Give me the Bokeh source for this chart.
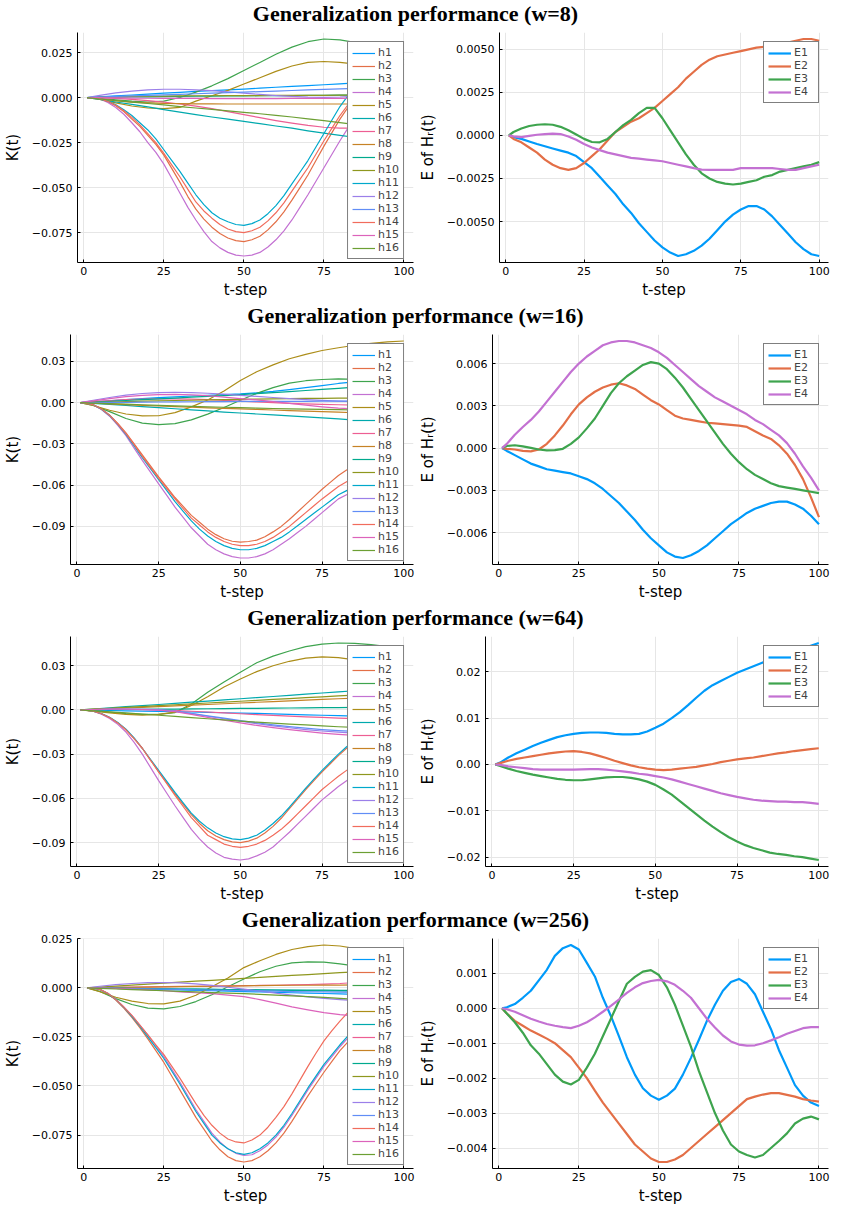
from bokeh.plotting import figure
from bokeh.layouts import column, row
from bokeh.models import Range1d, FixedTicker, Legend, LegendItem, Label
from bokeh.embed import file_html
from bokeh.resources import INLINE

# ---------------- data ----------------
# coarse grid (slowly varying series) and fine grid (strongly curved series)
T = [1, 5, 10, 15, 20, 25, 30, 35, 40, 45, 50, 55, 60, 65, 70, 75, 80, 85, 90, 95, 100]
T2 = [1, 2.5, 5, 7.5, 10, 12.5, 15, 17.5, 20, 22.5, 25, 27.5, 30, 32.5, 35, 37.5, 40, 42.5, 45, 47.5,
      50, 52.5, 55, 57.5, 60, 62.5, 65, 67.5, 70, 72.5, 75, 77.5, 80, 82.5, 85, 87.5, 90, 92.5, 95, 97.5, 100]

W_VALUES = [8, 16, 64, 256]
TITLES = ["Generalization performance (w=8)", "Generalization performance (w=16)",
          "Generalization performance (w=64)", "Generalization performance (w=256)"]
H_LABELS = ["h1", "h2", "h3", "h4", "h5", "h6", "h7", "h8", "h9", "h10", "h11", "h12", "h13", "h14", "h15", "h16"]
E_LABELS = ["E1", "E2", "E3", "E4"]
X_TICKS = [0, 25, 50, 75, 100]
X_LABEL = "t-step"
K_LABEL = "K(t)"
E_LABEL = "E of Hᵣ(t)"

PALETTE = ["#009AFA", "#E36F47", "#3EA44E", "#C371D2", "#AC8D18", "#00A9AD", "#ED5E93", "#C68225",
           "#00A98D", "#8E971E", "#00A8CB", "#9B7FE9", "#618DF6", "#F16C5C", "#DC63BB", "#6C9F33"]

# ----- w = 8 -----
k8_h1 = [0, 0.0004, 0.0009, 0.0014, 0.0019, 0.0024, 0.0029, 0.0034, 0.0038, 0.0043, 0.0047, 0.0052, 0.0057, 0.0062, 0.0066, 0.0071, 0.0076, 0.0081, 0.0085, 0.0090, 0.0095]
k8_h2 = [0, -0.0001, -0.0007, -0.0023, -0.0046, -0.0078, -0.012, -0.016, -0.021, -0.026, -0.032, -0.0395, -0.047, -0.055, -0.062, -0.0675, -0.072, -0.0755, -0.078, -0.0795, -0.080, -0.079, -0.077, -0.0735, -0.069, -0.0635, -0.057, -0.050, -0.043, -0.035, -0.027, -0.0195, -0.012, -0.0055, 0.000, 0.005, 0.009, 0.012, 0.015, 0.0167, 0.0178]
k8_h3 = [0, -0.0005, -0.0013, -0.002, -0.0025, -0.002, 0.0, 0.003, 0.0065, 0.0105, 0.015, 0.0195, 0.024, 0.028, 0.031, 0.0325, 0.032, 0.0305, 0.028, 0.024, 0.0208]
k8_h4 = [0, -0.0001, -0.0008, -0.0027, -0.0055, -0.0093, -0.014, -0.019, -0.025, -0.0305, -0.037, -0.045, -0.053, -0.061, -0.068, -0.0745, -0.080, -0.0835, -0.086, -0.0875, -0.088, -0.0875, -0.086, -0.083, -0.079, -0.074, -0.068, -0.061, -0.054, -0.0465, -0.039, -0.0315, -0.024, -0.017, -0.011, -0.0055, -0.001, 0.0025, 0.005, 0.0068, 0.008]
k8_h5 = [0, -0.001, -0.003, -0.0047, -0.0058, -0.0062, -0.0055, -0.002, 0.001, 0.004, 0.0075, 0.011, 0.0145, 0.0175, 0.0195, 0.020, 0.0195, 0.0185, 0.0172, 0.016, 0.015]
k8_h6 = [0, -0.001, -0.0025, -0.0038, -0.0052, -0.0067, -0.0081, -0.0095, -0.0108, -0.012, -0.0132, -0.0145, -0.0158, -0.017, -0.0185, -0.0198, -0.021, -0.0222, -0.0235, -0.0249, -0.0266]
k8_h7 = [0, -0.0002, -0.0005, -0.001, -0.0017, -0.0026, -0.0036, -0.0048, -0.0062, -0.0078, -0.0095, -0.0112, -0.0128, -0.0142, -0.0155, -0.0165, -0.017, -0.017, -0.0163, -0.0152, -0.014]
k8_h8 = [0, -0.0008, -0.0018, -0.0026, -0.003, -0.0033, -0.0034, -0.0035, -0.0035, -0.0036, -0.0036, -0.0036, -0.0036, -0.0036, -0.0036, -0.0036, -0.0036, -0.0036, -0.0036, -0.0036, -0.0036]
k8_h9 = [0, 0.0001, 0.0002, 0.0003, 0.0004, 0.0005, 0.0006, 0.0007, 0.0008, 0.0009, 0.0009, 0.001, 0.0011, 0.0011, 0.0012, 0.0012, 0.0013, 0.0013, 0.0014, 0.0014, 0.0015]
k8_h10 = [0, 0.0002, 0.0004, 0.0006, 0.0007, 0.0008, 0.0009, 0.001, 0.001, 0.0011, 0.0011, 0.0011, 0.0012, 0.0012, 0.0012, 0.0012, 0.0013, 0.0013, 0.0013, 0.0013, 0.0013]
k8_h11 = [0, -0.0001, -0.0006, -0.002, -0.004, -0.0068, -0.010, -0.014, -0.018, -0.023, -0.029, -0.035, -0.041, -0.0475, -0.054, -0.0595, -0.064, -0.067, -0.069, -0.0705, -0.071, -0.070, -0.068, -0.0645, -0.060, -0.0545, -0.048, -0.0415, -0.035, -0.0275, -0.020, -0.0125, -0.005, 0.001, 0.007, 0.012, 0.016, 0.019, 0.022, 0.0237, 0.025]
k8_h12 = [0, 0.0012, 0.0026, 0.0036, 0.0043, 0.0046, 0.0046, 0.0043, 0.0038, 0.0031, 0.0024, 0.0017, 0.0011, 0.0006, 0.0002, 0.0001, 0.0003, 0.0008, 0.0015, 0.0022, 0.0027]
k8_h13 = [0, 0.0003, 0.0006, 0.0009, 0.0012, 0.0015, 0.0018, 0.0021, 0.0024, 0.0027, 0.003, 0.0033, 0.0036, 0.0039, 0.0042, 0.0045, 0.0048, 0.0051, 0.0055, 0.0059, 0.0063]
k8_h14 = [0, -0.0001, -0.0006, -0.0021, -0.0043, -0.0073, -0.011, -0.0152, -0.020, -0.025, -0.031, -0.0375, -0.044, -0.051, -0.058, -0.063, -0.067, -0.0705, -0.073, -0.0745, -0.075, -0.074, -0.072, -0.0685, -0.064, -0.0585, -0.052, -0.0455, -0.039, -0.0315, -0.024, -0.017, -0.010, -0.004, 0.002, 0.007, 0.011, 0.014, 0.016, 0.0177, 0.0187]
k8_h15 = [0, -0.0001, -0.0002, -0.0003, -0.0004, -0.0005, -0.0005, -0.0005, -0.0006, -0.0006, -0.0006, -0.0006, -0.0006, -0.0005, -0.0005, -0.0005, -0.0005, -0.0004, -0.0004, -0.0004, -0.0004]
k8_h16 = [0, -0.0008, -0.0017, -0.0025, -0.0033, -0.0041, -0.005, -0.0058, -0.0066, -0.0074, -0.0082, -0.009, -0.0099, -0.0108, -0.0118, -0.0128, -0.0139, -0.015, -0.0162, -0.0174, -0.0185]

e8_1 = [0, -0.0001, -0.0002, -0.00035, -0.0005, -0.00063, -0.00076, -0.00088, -0.001, -0.0012, -0.00155, -0.0019, -0.0024, -0.0029, -0.0034, -0.0040, -0.0045, -0.0051, -0.0056, -0.0061, -0.0065, -0.0068, -0.0070, -0.0069, -0.0067, -0.0064, -0.0060, -0.0055, -0.0050, -0.0046, -0.0043, -0.0041, -0.0041, -0.0043, -0.0047, -0.0052, -0.0057, -0.0062, -0.0066, -0.0069, -0.0070]
e8_2 = [0, -0.0002, -0.0004, -0.0007, -0.001, -0.0014, -0.0017, -0.0019, -0.002, -0.0019, -0.0016, -0.0012, -0.0008, -0.0003, 0.0002, 0.0005, 0.0008, 0.001, 0.0013, 0.0016, 0.002, 0.0024, 0.0028, 0.0033, 0.0037, 0.0041, 0.0044, 0.0046, 0.0047, 0.0048, 0.0049, 0.005, 0.0051, 0.00515, 0.0052, 0.0053, 0.0054, 0.0055, 0.0056, 0.0056, 0.0055]
e8_3 = [0, 0.0002, 0.0004, 0.00055, 0.00062, 0.00065, 0.00062, 0.0005, 0.0003, 0.00005, -0.0002, -0.00038, -0.0004, -0.0002, 0.0002, 0.0006, 0.0009, 0.0013, 0.0016, 0.0016, 0.001, 0.0003, -0.0004, -0.0011, -0.0017, -0.0022, -0.0025, -0.0027, -0.0028, -0.00285, -0.0028, -0.0027, -0.0026, -0.0024, -0.0023, -0.0021, -0.002, -0.0019, -0.0018, -0.0017, -0.00155]
e8_4 = [0, -0.00005, -0.0001, -0.00003, 0.00004, 0.00008, 0.0001, 0.00008, -0.00006, -0.00025, -0.0005, -0.0007, -0.00085, -0.001, -0.0011, -0.0012, -0.0013, -0.00135, -0.0014, -0.00145, -0.0015, -0.0016, -0.0017, -0.0018, -0.0019, -0.00198, -0.002, -0.002, -0.002, -0.002, -0.0019, -0.0019, -0.0019, -0.0019, -0.0019, -0.00195, -0.002, -0.002, -0.0019, -0.0018, -0.0017]

# ----- w = 16 -----
k16_h1 = [0, 0.0006, 0.0014, 0.0022, 0.003, 0.0037, 0.0043, 0.0049, 0.0054, 0.0059, 0.0064, 0.0072, 0.0082, 0.0095, 0.011, 0.0125, 0.014, 0.0152, 0.0163, 0.0172, 0.018]
k16_h2 = [0, -0.0003, -0.0015, -0.0045, -0.009, -0.015, -0.022, -0.030, -0.038, -0.046, -0.054, -0.0615, -0.069, -0.0755, -0.082, -0.087, -0.092, -0.096, -0.099, -0.1008, -0.1015, -0.101, -0.100, -0.0975, -0.094, -0.090, -0.085, -0.0795, -0.074, -0.0685, -0.063, -0.058, -0.053, -0.049, -0.046, -0.0435, -0.041, -0.0395, -0.038, -0.037, -0.036]
k16_h3 = [0, -0.002, -0.0065, -0.0115, -0.0148, -0.0159, -0.0152, -0.0125, -0.0083, -0.0035, 0.0018, 0.0068, 0.011, 0.0142, 0.016, 0.0169, 0.0173, 0.017, 0.0163, 0.0155, 0.0148]
k16_h4 = [0, -0.0003, -0.0016, -0.0049, -0.0098, -0.0165, -0.024, -0.033, -0.042, -0.0505, -0.059, -0.0675, -0.076, -0.0835, -0.091, -0.097, -0.103, -0.107, -0.110, -0.112, -0.113, -0.113, -0.112, -0.110, -0.107, -0.103, -0.099, -0.0945, -0.090, -0.085, -0.080, -0.075, -0.070, -0.067, -0.064, -0.062, -0.060, -0.059, -0.058, -0.0575, -0.057]
k16_h5 = [0, -0.002, -0.0055, -0.0082, -0.0096, -0.0095, -0.0072, -0.003, 0.002, 0.0085, 0.0162, 0.0225, 0.0275, 0.032, 0.0352, 0.038, 0.040, 0.0418, 0.0432, 0.0442, 0.0449]
k16_h6 = [0, -0.0005, -0.0012, -0.002, -0.0028, -0.0036, -0.0044, -0.0052, -0.006, -0.0068, -0.0075, -0.0082, -0.0089, -0.0096, -0.0103, -0.011, -0.0118, -0.0127, -0.0137, -0.0147, -0.0157]
k16_h7 = [0, 0.0008, 0.0016, 0.0022, 0.0026, 0.0028, 0.0028, 0.0026, 0.0022, 0.0017, 0.0011, 0.0005, 0.0, -0.0005, -0.0009, -0.0012, -0.0015, -0.0017, -0.0018, -0.0019, -0.002]
k16_h8 = [0, -0.0004, -0.0009, -0.0014, -0.0019, -0.0024, -0.0029, -0.0033, -0.0037, -0.0041, -0.0045, -0.0049, -0.0053, -0.0057, -0.0061, -0.0065, -0.0069, -0.0073, -0.0077, -0.0081, -0.0085]
k16_h9 = [0, 0.0005, 0.001, 0.0016, 0.0022, 0.0028, 0.0034, 0.004, 0.0046, 0.0052, 0.0059, 0.0066, 0.0073, 0.0081, 0.0089, 0.0097, 0.0105, 0.0113, 0.0121, 0.0128, 0.0135]
k16_h10 = [0, 0.0002, 0.0005, 0.0008, 0.0011, 0.0014, 0.0016, 0.0018, 0.002, 0.0022, 0.0024, 0.0026, 0.0028, 0.003, 0.0031, 0.0032, 0.0033, 0.0034, 0.0035, 0.0036, 0.0037]
k16_h11 = [0, -0.0003, -0.0015, -0.0047, -0.0093, -0.0158, -0.023, -0.0315, -0.040, -0.048, -0.056, -0.064, -0.072, -0.079, -0.086, -0.092, -0.097, -0.101, -0.104, -0.106, -0.107, -0.107, -0.106, -0.104, -0.101, -0.098, -0.094, -0.0895, -0.085, -0.0805, -0.076, -0.0715, -0.067, -0.064, -0.061, -0.059, -0.057, -0.0558, -0.055, -0.0547, -0.0546]
k16_h12 = [0, 0.0018, 0.0038, 0.0055, 0.0067, 0.0074, 0.0076, 0.0074, 0.0069, 0.0062, 0.0054, 0.0046, 0.0038, 0.003, 0.0023, 0.0017, 0.0012, 0.0008, 0.0006, 0.0005, 0.0005]
k16_h13 = [0, 0.0001, 0.0002, 0.0003, 0.0004, 0.0005, 0.0006, 0.0007, 0.0008, 0.0008, 0.0009, 0.0009, 0.001, 0.001, 0.001, 0.0011, 0.0011, 0.0011, 0.0012, 0.0012, 0.0012]
k16_h14 = [0, -0.0003, -0.0015, -0.0046, -0.0092, -0.0155, -0.0225, -0.0305, -0.039, -0.047, -0.055, -0.0625, -0.070, -0.077, -0.084, -0.089, -0.094, -0.098, -0.101, -0.103, -0.104, -0.104, -0.103, -0.101, -0.098, -0.094, -0.090, -0.085, -0.080, -0.075, -0.070, -0.0655, -0.061, -0.0575, -0.054, -0.052, -0.050, -0.049, -0.048, -0.0477, -0.0475]
k16_h15 = [0, 0.0014, 0.003, 0.0044, 0.0054, 0.0059, 0.006, 0.0057, 0.0051, 0.0041, 0.003, 0.002, 0.0008, -0.0005, -0.0018, -0.003, -0.004, -0.0045, -0.0046, -0.0045, -0.0043]
k16_h16 = [0, -0.0003, -0.0007, -0.0011, -0.0015, -0.0019, -0.0023, -0.0027, -0.003, -0.0033, -0.0036, -0.0039, -0.0042, -0.0045, -0.0047, -0.0049, -0.0051, -0.0053, -0.0055, -0.0057, -0.0059]

e16_1 = [0, -0.0002, -0.0005, -0.0008, -0.0011, -0.0013, -0.0015, -0.0016, -0.0017, -0.0018, -0.002, -0.0022, -0.0025, -0.0029, -0.0034, -0.0039, -0.0045, -0.0051, -0.0058, -0.0064, -0.0069, -0.0074, -0.0077, -0.0078, -0.0076, -0.0073, -0.0069, -0.0064, -0.0059, -0.0054, -0.005, -0.0046, -0.0043, -0.0041, -0.0039, -0.0038, -0.0038, -0.0040, -0.0043, -0.0048, -0.0054]
e16_2 = [0, -0.00005, -0.0001, -0.0002, -0.00023, -0.0001, 0.0003, 0.0009, 0.0016, 0.0024, 0.0031, 0.0036, 0.004, 0.0043, 0.0045, 0.0046, 0.00445, 0.0042, 0.0038, 0.0034, 0.0031, 0.0027, 0.0023, 0.0021, 0.002, 0.0019, 0.0018, 0.00175, 0.0017, 0.00165, 0.0016, 0.0015, 0.0012, 0.0009, 0.00065, 0.0002, -0.0004, -0.0012, -0.0022, -0.0035, -0.0049]
e16_3 = [0, 0.00015, 0.0002, 0.00012, 0.00002, -0.0001, -0.00016, -0.00015, -0.00005, 0.0003, 0.00076, 0.0014, 0.0021, 0.003, 0.0039, 0.0046, 0.0051, 0.0055, 0.0059, 0.0061, 0.006, 0.0056, 0.005, 0.0043, 0.0035, 0.0027, 0.0019, 0.0011, 0.0003, -0.0004, -0.001, -0.0015, -0.0019, -0.0022, -0.0025, -0.0027, -0.0028, -0.0029, -0.003, -0.0031, -0.0032]
e16_4 = [0, 0.0003, 0.00095, 0.0015, 0.002, 0.0026, 0.0033, 0.004, 0.0047, 0.0054, 0.006, 0.0065, 0.0069, 0.0073, 0.0075, 0.0076, 0.0076, 0.0075, 0.0073, 0.0071, 0.0068, 0.0064, 0.0059, 0.0054, 0.0049, 0.0044, 0.004, 0.0036, 0.0033, 0.003, 0.0027, 0.0024, 0.002, 0.0017, 0.0013, 0.0009, 0.00035, -0.0004, -0.0013, -0.0021, -0.003]

# ----- w = 64 -----
k64_h1 = [0, -0.0002, -0.0004, -0.0006, -0.0008, -0.001, -0.0012, -0.0014, -0.0016, -0.0019, -0.0021, -0.0024, -0.0027, -0.003, -0.0033, -0.0036, -0.0039, -0.0042, -0.0045, -0.0048, -0.005]
k64_h2 = [0, -0.0001, -0.0008, -0.0026, -0.0052, -0.0088, -0.0135, -0.0195, -0.026, -0.034, -0.042, -0.0495, -0.057, -0.064, -0.071, -0.077, -0.082, -0.0855, -0.088, -0.0895, -0.090, -0.089, -0.087, -0.0835, -0.079, -0.0735, -0.067, -0.0605, -0.054, -0.048, -0.042, -0.0365, -0.031, -0.026, -0.022, -0.018, -0.015, -0.0125, -0.010, -0.0085, -0.007]
k64_h3 = [0, -0.0005, -0.0015, -0.0025, -0.003, -0.003, -0.0018, 0.004, 0.012, 0.019, 0.0255, 0.032, 0.0365, 0.040, 0.043, 0.0447, 0.0454, 0.0452, 0.0443, 0.043, 0.0414]
k64_h4 = [0, -0.0001, -0.0009, -0.0029, -0.0058, -0.0098, -0.015, -0.022, -0.030, -0.039, -0.048, -0.0565, -0.065, -0.073, -0.081, -0.0875, -0.093, -0.097, -0.100, -0.1012, -0.1018, -0.101, -0.099, -0.0965, -0.093, -0.088, -0.083, -0.0775, -0.072, -0.0665, -0.061, -0.0565, -0.052, -0.048, -0.044, -0.041, -0.038, -0.036, -0.034, -0.033, -0.032]
k64_h5 = [0, -0.0008, -0.002, -0.003, -0.0035, -0.003, -0.0015, 0.003, 0.009, 0.0155, 0.021, 0.026, 0.030, 0.033, 0.0352, 0.036, 0.0355, 0.034, 0.032, 0.030, 0.0276]
k64_h6 = [0, 0.0006, 0.0014, 0.0022, 0.0029, 0.0037, 0.0045, 0.0053, 0.006, 0.0068, 0.0076, 0.0084, 0.0091, 0.0099, 0.0107, 0.0115, 0.0123, 0.013, 0.0138, 0.0146, 0.0154]
k64_h7 = [0, 0.0002, 0.0003, 0.0003, 0.0002, 0.0, -0.0004, -0.0009, -0.0014, -0.002, -0.0026, -0.0032, -0.0037, -0.0042, -0.0047, -0.0051, -0.0055, -0.0059, -0.0062, -0.0065, -0.0068]
k64_h8 = [0, 0.0004, 0.0009, 0.0013, 0.0018, 0.0023, 0.0028, 0.0032, 0.0037, 0.0042, 0.0047, 0.0052, 0.0056, 0.0061, 0.0066, 0.0071, 0.0076, 0.008, 0.0085, 0.009, 0.0095]
k64_h9 = [0, 0.0001, 0.0002, 0.0003, 0.0004, 0.0005, 0.0006, 0.0007, 0.0008, 0.0009, 0.001, 0.0011, 0.0012, 0.0013, 0.0014, 0.0015, 0.0016, 0.0017, 0.0018, 0.0019, 0.002]
k64_h10 = [0, 0.0005, 0.0011, 0.0017, 0.0023, 0.0029, 0.0035, 0.0041, 0.0047, 0.0053, 0.0059, 0.0065, 0.0071, 0.0077, 0.0083, 0.0089, 0.0095, 0.0101, 0.0107, 0.0113, 0.012]
k64_h11 = [0, -0.0001, -0.0008, -0.0025, -0.005, -0.0085, -0.013, -0.019, -0.026, -0.0335, -0.041, -0.0485, -0.056, -0.063, -0.070, -0.0755, -0.080, -0.0835, -0.086, -0.0875, -0.088, -0.087, -0.085, -0.0815, -0.077, -0.072, -0.066, -0.0595, -0.053, -0.047, -0.041, -0.0355, -0.030, -0.025, -0.021, -0.017, -0.014, -0.0115, -0.009, -0.0075, -0.006]
k64_h12 = [0, 0.0003, 0.0005, 0.0006, 0.0005, 0.0002, -0.0008, -0.0025, -0.0043, -0.006, -0.0077, -0.0093, -0.0108, -0.0121, -0.0133, -0.0143, -0.0151, -0.0157, -0.0161, -0.0164, -0.0166]
k64_h13 = [0, 0.0002, 0.0004, 0.0004, 0.0003, 0.0, -0.0009, -0.0024, -0.004, -0.0056, -0.0072, -0.0087, -0.0101, -0.0113, -0.0124, -0.0133, -0.014, -0.0145, -0.0148, -0.015, -0.0151]
k64_h14 = [0, -0.0001, -0.0008, -0.0026, -0.0052, -0.0088, -0.0135, -0.0195, -0.026, -0.034, -0.042, -0.050, -0.058, -0.0655, -0.073, -0.079, -0.085, -0.088, -0.091, -0.0925, -0.0933, -0.0925, -0.091, -0.0885, -0.085, -0.081, -0.076, -0.0705, -0.065, -0.0595, -0.054, -0.0495, -0.045, -0.041, -0.037, -0.034, -0.031, -0.0295, -0.028, -0.027, -0.0265]
k64_h15 = [0, 0.0003, 0.0005, 0.0005, 0.0003, -0.0001, -0.0012, -0.003, -0.005, -0.007, -0.0088, -0.0105, -0.012, -0.0134, -0.0146, -0.0157, -0.0166, -0.0173, -0.0178, -0.0182, -0.0185]
k64_h16 = [0, -0.0006, -0.0013, -0.002, -0.0028, -0.0036, -0.0044, -0.0052, -0.006, -0.0068, -0.0076, -0.0083, -0.009, -0.0096, -0.0102, -0.0108, -0.0114, -0.0118, -0.0121, -0.0123, -0.0125]

e64_1 = [0, 0.0004, 0.0015, 0.0024, 0.0032, 0.004, 0.0047, 0.0053, 0.0059, 0.0063, 0.0066, 0.0068, 0.0069, 0.0069, 0.0068, 0.0066, 0.0065, 0.0065, 0.0066, 0.0071, 0.0079, 0.0088, 0.010, 0.0113, 0.0128, 0.0144, 0.0159, 0.0171, 0.018, 0.0189, 0.0198, 0.0205, 0.0212, 0.0219, 0.0226, 0.0232, 0.0238, 0.0244, 0.025, 0.0256, 0.0262]
e64_2 = [0, 0.0003, 0.0008, 0.0012, 0.0015, 0.0018, 0.0021, 0.0024, 0.0026, 0.0028, 0.0029, 0.0027, 0.0024, 0.0019, 0.0014, 0.0008, 0.0003, -0.0002, -0.0006, -0.0009, -0.0011, -0.0012, -0.0011, -0.0009, -0.0007, -0.0005, -0.0002, 0.0001, 0.0005, 0.0008, 0.0011, 0.0013, 0.0015, 0.0018, 0.0021, 0.0024, 0.0026, 0.0029, 0.0031, 0.0033, 0.0035]
e64_3 = [0, -0.0003, -0.0009, -0.0014, -0.0018, -0.0022, -0.0025, -0.0028, -0.0031, -0.0033, -0.0034, -0.0034, -0.0032, -0.003, -0.0028, -0.0027, -0.0027, -0.0029, -0.0032, -0.0037, -0.0044, -0.0054, -0.0065, -0.0079, -0.0093, -0.0107, -0.0121, -0.0134, -0.0146, -0.0157, -0.0166, -0.0174, -0.018, -0.0185, -0.019, -0.0193, -0.0195, -0.0198, -0.02, -0.0203, -0.0206]
e64_4 = [0, -0.0001, -0.0004, -0.0006, -0.0008, -0.001, -0.0011, -0.0011, -0.0011, -0.0011, -0.0011, -0.00105, -0.001, -0.001, -0.0011, -0.0013, -0.0015, -0.0017, -0.002, -0.0022, -0.0025, -0.0028, -0.0032, -0.0037, -0.0042, -0.0047, -0.0052, -0.0057, -0.0062, -0.0066, -0.007, -0.0073, -0.0076, -0.0078, -0.0079, -0.008, -0.008, -0.0081, -0.0081, -0.0083, -0.0085]

# ----- w = 256 -----
k256_h1 = [0, -0.0001, -0.0003, -0.0005, -0.0007, -0.0009, -0.0011, -0.0013, -0.0015, -0.0017, -0.0019, -0.0021, -0.0023, -0.0025, -0.0027, -0.0029, -0.0031, -0.0033, -0.0035, -0.0037, -0.004]
k256_h2 = [0, -0.0001, -0.0009, -0.003, -0.0062, -0.0103, -0.015, -0.0203, -0.026, -0.032, -0.038, -0.045, -0.052, -0.059, -0.066, -0.072, -0.078, -0.0825, -0.086, -0.088, -0.0887, -0.088, -0.086, -0.083, -0.079, -0.074, -0.068, -0.0615, -0.055, -0.049, -0.043, -0.0375, -0.032, -0.0275, -0.023, -0.019, -0.015, -0.012, -0.009, -0.007, -0.005]
k256_h3 = [0, -0.0018, -0.0055, -0.0085, -0.0103, -0.0107, -0.0095, -0.007, -0.0035, 0.0005, 0.0045, 0.0082, 0.011, 0.0127, 0.0132, 0.0131, 0.0122, 0.011, 0.0102, 0.0098, 0.0095]
k256_h4 = [0, -0.0001, -0.0008, -0.0028, -0.0058, -0.0097, -0.014, -0.019, -0.024, -0.0295, -0.035, -0.0415, -0.048, -0.055, -0.062, -0.068, -0.074, -0.0785, -0.082, -0.0843, -0.0853, -0.085, -0.083, -0.080, -0.076, -0.071, -0.065, -0.0585, -0.052, -0.046, -0.040, -0.035, -0.030, -0.0255, -0.021, -0.017, -0.013, -0.0098, -0.007, -0.0048, -0.003]
k256_h5 = [0, -0.002, -0.0048, -0.0068, -0.008, -0.0082, -0.0068, -0.0038, 0.0005, 0.005, 0.0103, 0.0138, 0.017, 0.0195, 0.021, 0.0218, 0.0213, 0.020, 0.0188, 0.0178, 0.017]
k256_h6 = [0, -0.0001, -0.0002, -0.0003, -0.0004, -0.0005, -0.0006, -0.0007, -0.0008, -0.0009, -0.001, -0.0011, -0.0012, -0.0013, -0.0014, -0.0015, -0.0016, -0.0017, -0.0018, -0.0019, -0.002]
k256_h7 = [0, 0.0001, 0.0002, 0.0004, 0.0005, 0.0006, 0.0007, 0.0008, 0.0009, 0.001, 0.0011, 0.0012, 0.0013, 0.0015, 0.0017, 0.0019, 0.0022, 0.0027, 0.0033, 0.004, 0.0048]
k256_h8 = [0, 0.0001, 0.0002, 0.0003, 0.0004, 0.0005, 0.0006, 0.0007, 0.0008, 0.0009, 0.001, 0.0011, 0.0012, 0.0013, 0.0013, 0.0014, 0.0014, 0.0015, 0.0015, 0.0016, 0.0016]
k256_h9 = [0, -0.0001, -0.0002, -0.0003, -0.0004, -0.0005, -0.0006, -0.0007, -0.0008, -0.0009, -0.001, -0.001, -0.0011, -0.0011, -0.0012, -0.0012, -0.0013, -0.0013, -0.0014, -0.0014, -0.0015]
k256_h10 = [0, 0.0004, 0.0009, 0.0014, 0.0019, 0.0024, 0.0029, 0.0034, 0.0038, 0.0043, 0.0048, 0.0053, 0.0058, 0.0063, 0.0067, 0.0072, 0.0077, 0.0081, 0.0086, 0.009, 0.0095]
k256_h11 = [0, -0.0001, -0.0008, -0.0029, -0.006, -0.010, -0.0145, -0.0195, -0.025, -0.0305, -0.036, -0.0425, -0.049, -0.056, -0.063, -0.069, -0.075, -0.079, -0.082, -0.084, -0.0848, -0.084, -0.082, -0.079, -0.075, -0.070, -0.064, -0.0575, -0.051, -0.045, -0.039, -0.034, -0.029, -0.0245, -0.020, -0.016, -0.012, -0.009, -0.006, -0.0038, -0.002]
k256_h12 = [0, 0.0008, 0.0016, 0.0022, 0.0026, 0.0027, 0.0025, 0.002, 0.0012, 0.0003, -0.0007, -0.0017, -0.0027, -0.0037, -0.0046, -0.0054, -0.006, -0.0065, -0.0068, -0.007, -0.007]
k256_h13 = [0, -0.0001, -0.0002, -0.0004, -0.0005, -0.0007, -0.0008, -0.001, -0.0011, -0.0013, -0.0014, -0.0016, -0.0017, -0.0019, -0.002, -0.0021, -0.0022, -0.0023, -0.0024, -0.0025, -0.0026]
k256_h14 = [0, -0.0001, -0.0008, -0.0028, -0.006, -0.0098, -0.014, -0.019, -0.024, -0.029, -0.034, -0.040, -0.046, -0.0525, -0.059, -0.065, -0.070, -0.074, -0.077, -0.0785, -0.079, -0.0775, -0.075, -0.071, -0.066, -0.0605, -0.054, -0.047, -0.040, -0.0333, -0.027, -0.0218, -0.017, -0.0125, -0.008, -0.0043, -0.001, 0.0017, 0.004, 0.0057, 0.007]
k256_h15 = [0, -0.0001, -0.0003, -0.0006, -0.001, -0.0015, -0.0021, -0.0025, -0.003, -0.0037, -0.0045, -0.006, -0.0078, -0.0097, -0.0112, -0.0126, -0.0137, -0.0144, -0.0143, -0.0135, -0.0125]
k256_h16 = [0, -0.0003, -0.0006, -0.0009, -0.0012, -0.0015, -0.0018, -0.0021, -0.0024, -0.0027, -0.003, -0.0033, -0.0037, -0.0041, -0.0045, -0.0049, -0.0054, -0.0059, -0.0065, -0.007, -0.0075]

e256_1 = [0, 0.00003, 0.00012, 0.0003, 0.0005, 0.0008, 0.0011, 0.0015, 0.00172, 0.00181, 0.00168, 0.0013, 0.00091, 0.0003, -0.00022, -0.0008, -0.0014, -0.0019, -0.00229, -0.0025, -0.00262, -0.0025, -0.0023, -0.0019, -0.00142, -0.0009, -0.00036, 0.0001, 0.0005, 0.00075, 0.00084, 0.0007, 0.0004, -0.0001, -0.0006, -0.0012, -0.0017, -0.0022, -0.0025, -0.0027, -0.0028]
e256_2 = [0, -0.00015, -0.00036, -0.0005, -0.00064, -0.00075, -0.00087, -0.001, -0.0012, -0.0014, -0.0017, -0.002, -0.00236, -0.0027, -0.003, -0.0033, -0.0036, -0.0039, -0.0041, -0.0043, -0.0044, -0.0044, -0.00433, -0.0042, -0.004, -0.0038, -0.0036, -0.0034, -0.0032, -0.003, -0.0028, -0.0026, -0.00253, -0.00247, -0.00243, -0.00243, -0.00248, -0.00253, -0.0026, -0.00264, -0.00267]
e256_3 = [0, -0.00015, -0.0004, -0.0007, -0.00106, -0.0013, -0.0016, -0.0019, -0.0021, -0.00218, -0.00205, -0.0017, -0.0013, -0.0008, -0.0003, 0.0002, 0.0007, 0.0009, 0.00105, 0.00109, 0.00095, 0.0006, 0.0001, -0.0005, -0.0011, -0.0018, -0.0024, -0.003, -0.0035, -0.0039, -0.0041, -0.0042, -0.00427, -0.0042, -0.004, -0.0038, -0.00358, -0.0033, -0.00316, -0.0031, -0.00318]
e256_4 = [0, -0.00003, -0.0001, -0.0002, -0.0003, -0.00038, -0.00045, -0.0005, -0.00054, -0.00057, -0.0005, -0.0004, -0.00026, -0.0001, 0.00007, 0.00025, 0.00044, 0.0006, 0.00072, 0.00078, 0.00081, 0.00077, 0.00067, 0.0005, 0.0003, 0.0000, -0.0003, -0.00055, -0.00078, -0.00095, -0.00104, -0.00107, -0.00106, -0.001, -0.00092, -0.00083, -0.00073, -0.00065, -0.00057, -0.00054, -0.00054]

K_SERIES = [
    [k8_h1, k8_h2, k8_h3, k8_h4, k8_h5, k8_h6, k8_h7, k8_h8, k8_h9, k8_h10, k8_h11, k8_h12, k8_h13, k8_h14, k8_h15, k8_h16],
    [k16_h1, k16_h2, k16_h3, k16_h4, k16_h5, k16_h6, k16_h7, k16_h8, k16_h9, k16_h10, k16_h11, k16_h12, k16_h13, k16_h14, k16_h15, k16_h16],
    [k64_h1, k64_h2, k64_h3, k64_h4, k64_h5, k64_h6, k64_h7, k64_h8, k64_h9, k64_h10, k64_h11, k64_h12, k64_h13, k64_h14, k64_h15, k64_h16],
    [k256_h1, k256_h2, k256_h3, k256_h4, k256_h5, k256_h6, k256_h7, k256_h8, k256_h9, k256_h10, k256_h11, k256_h12, k256_h13, k256_h14, k256_h15, k256_h16],
]
E_SERIES = [
    [e8_1, e8_2, e8_3, e8_4],
    [e16_1, e16_2, e16_3, e16_4],
    [e64_1, e64_2, e64_3, e64_4],
    [e256_1, e256_2, e256_3, e256_4],
]

# y tick values and labels
K_TICKS = [
    [-0.075, -0.05, -0.025, 0.0, 0.025],
    [-0.09, -0.06, -0.03, 0.0, 0.03],
    [-0.09, -0.06, -0.03, 0.0, 0.03],
    [-0.075, -0.05, -0.025, 0.0, 0.025],
]
K_TICK_LABELS = [
    ["−0.075", "−0.050", "−0.025", "0.000", "0.025"],
    ["−0.09", "−0.06", "−0.03", "0.00", "0.03"],
    ["−0.09", "−0.06", "−0.03", "0.00", "0.03"],
    ["−0.075", "−0.050", "−0.025", "0.000", "0.025"],
]
E_TICKS = [
    [-0.005, -0.0025, 0.0, 0.0025, 0.005],
    [-0.006, -0.003, 0.0, 0.003, 0.006],
    [-0.02, -0.01, 0.0, 0.01, 0.02],
    [-0.004, -0.003, -0.002, -0.001, 0.0, 0.001],
]
E_TICK_LABELS = [
    ["−0.0050", "−0.0025", "0.0000", "0.0025", "0.0050"],
    ["−0.006", "−0.003", "0.000", "0.003", "0.006"],
    ["−0.02", "−0.01", "0.00", "0.01", "0.02"],
    ["−0.004", "−0.003", "−0.002", "−0.001", "0.000", "0.001"],
]

# ---------------- layout / style ----------------
FONT = "DejaVu Sans"
TITLE_FONT = "Liberation Serif"
TITLE_H = 26
PLOT_H = 276
LEFT_W = 415
RIGHT_W = 415
LEFT_BORDER = [73, 66, 66, 73]
RIGHT_BORDER = [83, 76, 69, 76]


def grid_for(s):
    return T2 if len(s) == len(T2) else T


def make_panel(series, labels, yticks, ylabels, ylabel, width, border_left, lw):
    lo = min(min(s) for s in series)
    hi = max(max(s) for s in series)
    pad = 0.03 * (hi - lo)
    xpad = 0.03 * (T[-1] - T[0])
    p = figure(width=width, height=PLOT_H,
               x_range=Range1d(T[0] - xpad, T[-1] + xpad),
               y_range=Range1d(lo - pad, hi + pad),
               output_backend="svg", toolbar_location=None,
               min_border_left=border_left, min_border_right=2,
               min_border_top=6, min_border_bottom=40)
    p.outline_line_color = None
    p.background_fill_color = "white"
    p.border_fill_color = "white"

    items = []
    for i, (s, lab) in enumerate(zip(series, labels)):
        xs = grid_for(s)
        n = min(len(xs), len(s))
        r = p.line(xs[:n], s[:n], line_color=PALETTE[i], line_width=lw, line_join="round")
        items.append(LegendItem(label=lab, renderers=[r]))

    p.xaxis.ticker = FixedTicker(ticks=X_TICKS)
    p.yaxis.ticker = FixedTicker(ticks=yticks)
    p.yaxis.major_label_overrides = dict(zip(yticks, ylabels))
    p.xaxis.axis_label = X_LABEL
    p.yaxis.axis_label = ylabel

    for ax in (p.xaxis[0], p.yaxis[0]):
        ax.axis_line_color = "black"
        ax.axis_line_width = 1
        ax.major_tick_line_color = "black"
        ax.major_tick_in = 3
        ax.major_tick_out = 0
        ax.minor_tick_line_color = None
        ax.major_label_text_font = FONT
        ax.major_label_text_font_size = "11px"
        ax.major_label_text_color = "black"
        ax.axis_label_text_font = FONT
        ax.axis_label_text_font_size = "15px"
        ax.axis_label_text_font_style = "normal"
        ax.axis_label_text_color = "black"
    p.xaxis.major_label_standoff = 4
    p.xaxis.axis_label_standoff = 3
    p.yaxis.major_label_standoff = 5
    p.yaxis.axis_label_standoff = 7

    p.grid.grid_line_color = "#e6e6e6"
    p.grid.grid_line_width = 1

    legend = Legend(items=items, location="top_right")
    legend.label_text_font = FONT
    legend.label_text_font_size = "11px"
    legend.label_height = 12
    legend.glyph_height = 12
    legend.glyph_width = 23
    legend.label_standoff = 3
    legend.padding = 4
    legend.spacing = 0
    legend.margin = 9
    legend.border_line_color = "black"
    legend.border_line_width = 1
    legend.background_fill_color = "white"
    legend.background_fill_alpha = 1.0
    p.add_layout(legend)
    return p


def make_title(text):
    t = figure(width=LEFT_W + RIGHT_W, height=TITLE_H, x_axis_location=None, y_axis_location=None,
               output_backend="svg", toolbar_location=None,
               min_border_left=0, min_border_right=0, min_border_top=0, min_border_bottom=0)
    t.outline_line_color = None
    t.grid.visible = False
    lab = Label(x=(LEFT_W + RIGHT_W) / 2, y=TITLE_H / 2, x_units="screen", y_units="screen",
                text=text, text_align="center", text_baseline="middle",
                text_font=TITLE_FONT, text_font_style="bold", text_font_size="22px",
                text_color="black")
    t.add_layout(lab)
    return t


rows = []
for k in range(len(W_VALUES)):
    left = make_panel(K_SERIES[k], H_LABELS, K_TICKS[k], K_TICK_LABELS[k], K_LABEL,
                      LEFT_W, LEFT_BORDER[k], 1.2)
    right = make_panel(E_SERIES[k], E_LABELS, E_TICKS[k], E_TICK_LABELS[k], E_LABEL,
                       RIGHT_W, RIGHT_BORDER[k], 2.2)
    rows.append(make_title(TITLES[k]))
    rows.append(row(left, right))

layout = column(*rows)

open("out.html", "w").write(file_html(layout, INLINE, title="Generalization performance"))
